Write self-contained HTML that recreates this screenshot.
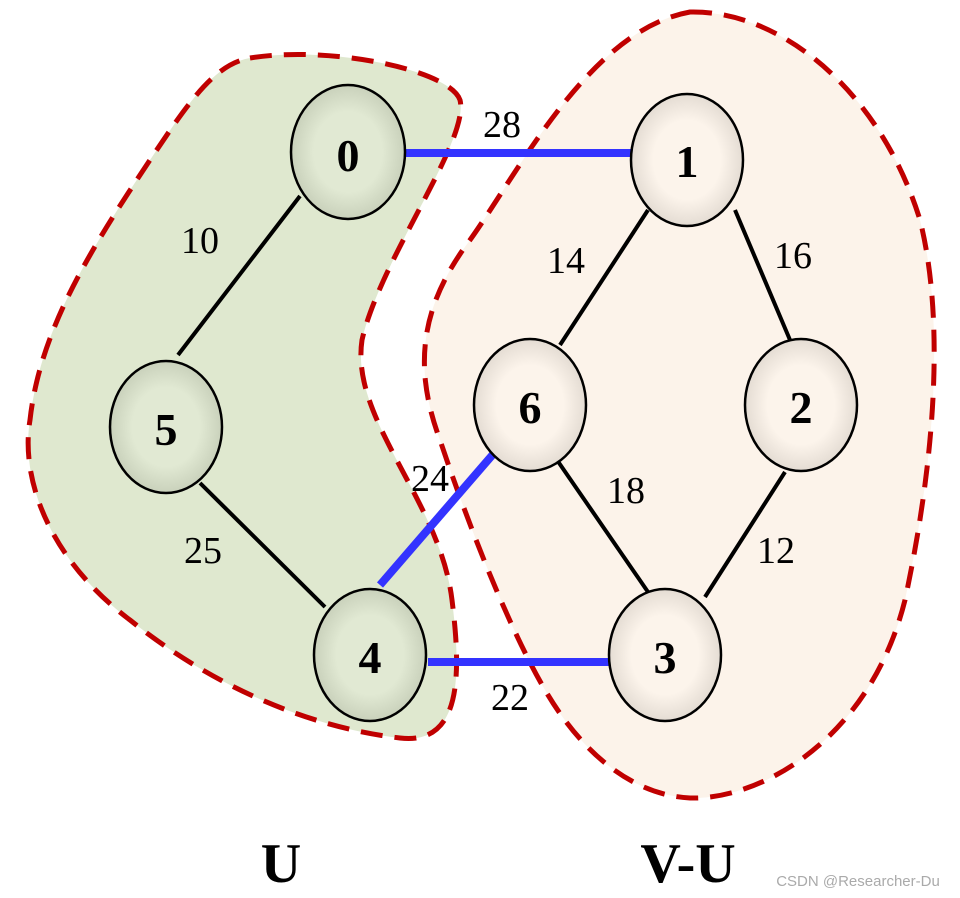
<!DOCTYPE html>
<html><head><meta charset="utf-8"><style>
html,body{margin:0;padding:0;background:#fff;width:960px;height:898px;overflow:hidden}
</style></head><body>
<svg width="960" height="898" viewBox="0 0 960 898" xmlns="http://www.w3.org/2000/svg">
<defs>
<radialGradient id="gg" cx="50%" cy="50%" r="50%"><stop offset="60%" stop-color="#e1e9d3"/><stop offset="100%" stop-color="#c9d1bb"/></radialGradient>
<radialGradient id="og" cx="50%" cy="50%" r="50%"><stop offset="60%" stop-color="#fcf4eb"/><stop offset="100%" stop-color="#e4dcd3"/></radialGradient>
</defs>
<path d="M250,58 C330,45 450,70 460,100 C470,140 380,260 362,340 C350,420 440,500 452,600 C462,680 460,745 400,738 C330,730 230,700 130,620 C50,560 20,480 30,420 C40,330 90,250 150,160 C190,100 215,64 250,58 Z" fill="#dfe8cf" stroke="#c00000" stroke-width="5" stroke-dasharray="22,12"/>
<path d="M690,12 C780,10 880,90 920,220 C945,320 935,460 905,600 C870,740 760,800 690,798 C630,795 580,750 545,690 C510,630 470,530 440,440 C410,360 425,300 470,240 C520,170 590,30 690,12 Z" fill="#fcf3ea" stroke="#c00000" stroke-width="5" stroke-dasharray="22,12"/>
<g stroke="#000" stroke-width="4">
<line x1="300" y1="196" x2="178" y2="355"/>
<line x1="200" y1="483" x2="325" y2="607"/>
<line x1="648" y1="210" x2="560" y2="345"/>
<line x1="735" y1="210" x2="790" y2="340"/>
<line x1="557" y1="460" x2="648" y2="592"/>
<line x1="785" y1="472" x2="705" y2="597"/>
</g>
<g stroke="#3333ff" stroke-width="8">
<line x1="405" y1="153" x2="633" y2="153"/>
<line x1="380" y1="585" x2="495" y2="452"/>
<line x1="428" y1="662" x2="610" y2="662"/>
</g>
<g stroke="#000" stroke-width="2.5">
<ellipse cx="348" cy="152" rx="57" ry="67" fill="url(#gg)"/>
<ellipse cx="166" cy="427" rx="56" ry="66" fill="url(#gg)"/>
<ellipse cx="370" cy="655" rx="56" ry="66" fill="url(#gg)"/>
<ellipse cx="687" cy="160" rx="56" ry="66" fill="url(#og)"/>
<ellipse cx="530" cy="405" rx="56" ry="66" fill="url(#og)"/>
<ellipse cx="801" cy="405" rx="56" ry="66" fill="url(#og)"/>
<ellipse cx="665" cy="655" rx="56" ry="66" fill="url(#og)"/>
</g>
<g font-family="Liberation Serif, serif" font-weight="bold" font-size="46" text-anchor="middle">
<text x="348" y="171">0</text>
<text x="166" y="445">5</text>
<text x="370" y="673">4</text>
<text x="687" y="177">1</text>
<text x="530" y="423">6</text>
<text x="801" y="423">2</text>
<text x="665" y="673">3</text>
</g>
<g font-family="Liberation Serif, serif" font-size="38" text-anchor="middle">
<text x="502" y="137">28</text>
<text x="200" y="253">10</text>
<text x="566" y="273">14</text>
<text x="793" y="268">16</text>
<text x="430" y="491">24</text>
<text x="626" y="503">18</text>
<text x="203" y="563">25</text>
<text x="776" y="563">12</text>
<text x="510" y="710">22</text>
</g>
<g font-family="Liberation Serif, serif" font-weight="bold" font-size="56" text-anchor="middle">
<text x="281" y="882">U</text>
<text x="688" y="882">V-U</text>
</g>
<text x="858" y="886" font-family="Liberation Sans, sans-serif" font-size="15" fill="#aaa" text-anchor="middle">CSDN @Researcher-Du</text>
</svg>
</body></html>
